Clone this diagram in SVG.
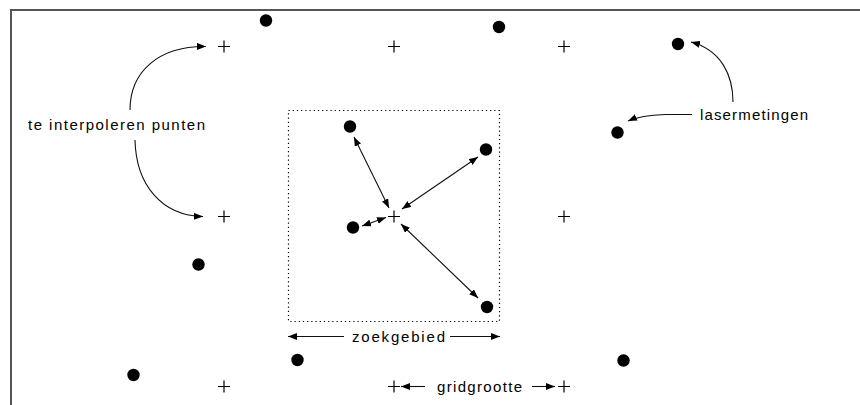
<svg xmlns="http://www.w3.org/2000/svg" width="860" height="405" viewBox="0 0 860 405">
<defs>
<style>
.frame{stroke:#555;stroke-width:2;fill:none}
.cross{stroke:#000;stroke-width:1.2;fill:none}
.dot{fill:#000}
.lbl{font-family:"Liberation Sans",Arial,sans-serif;font-size:15px;fill:#000}
.conn{stroke:#111;stroke-width:1.1;fill:none}
.box{stroke:#000;stroke-width:1.2;fill:none;stroke-dasharray:1.2 3}
</style>
<marker id="ah" viewBox="0 0 10 10" refX="10" refY="5" markerWidth="9" markerHeight="7" markerUnits="userSpaceOnUse" orient="auto-start-reverse" preserveAspectRatio="none">
<path d="M0,0 L10,5 L0,10 Z" fill="#000"/>
</marker>
</defs>
<rect width="860" height="405" fill="#fff"/>
<path class="frame" d="M11,405 V10 H860"/>
<g id="zoekgebied-box"><rect class="box" x="288.5" y="110.5" width="211" height="211"/></g>
<g id="crosses">
<g id="p1"><path class="cross" d="M218,46.5h12M224,40.5v12"/></g>
<g id="p2"><path class="cross" d="M388,46.5h12M394,40.5v12"/></g>
<g id="p3"><path class="cross" d="M558,46.5h12M564,40.5v12"/></g>
<g id="p4"><path class="cross" d="M218,216.5h12M224,210.5v12"/></g>
<g id="p5"><path class="cross" d="M388,216.5h12M394,210.5v12"/></g>
<g id="p6"><path class="cross" d="M558,216.5h12M564,210.5v12"/></g>
<g id="p7"><path class="cross" d="M218,386.5h12M224,380.5v12"/></g>
<g id="p8"><path class="cross" d="M388,386.5h12M394,380.5v12"/></g>
<g id="p9"><path class="cross" d="M558,386.5h12M564,380.5v12"/></g>
</g>
<g id="dots">
<g id="m1"><circle class="dot" cx="266" cy="20.5" r="6.2"/></g>
<g id="m2"><circle class="dot" cx="499" cy="27" r="6.2"/></g>
<g id="m3"><circle class="dot" cx="678" cy="44" r="6.2"/></g>
<g id="m4"><circle class="dot" cx="617.5" cy="132.5" r="6.2"/></g>
<g id="m5"><circle class="dot" cx="350" cy="126.5" r="6.2"/></g>
<g id="m6"><circle class="dot" cx="486" cy="149.5" r="6.2"/></g>
<g id="m7"><circle class="dot" cx="353" cy="227.5" r="6.2"/></g>
<g id="m8"><circle class="dot" cx="487" cy="307" r="6.2"/></g>
<g id="m9"><circle class="dot" cx="198.5" cy="264.5" r="6.2"/></g>
<g id="m10"><circle class="dot" cx="133.5" cy="375" r="6.2"/></g>
<g id="m11"><circle class="dot" cx="297.5" cy="360" r="6.2"/></g>
<g id="m12"><circle class="dot" cx="623.5" cy="360.5" r="6.2"/></g>
</g>
<g id="labels">
<g id="lbl-punten"><text class="lbl" x="28" y="130" textLength="177" lengthAdjust="spacing">te interpoleren punten</text></g>
<g id="lbl-laser"><text class="lbl" x="700" y="120" textLength="108" lengthAdjust="spacing">lasermetingen</text></g>
<g id="lbl-zoek"><text class="lbl" x="352" y="342" textLength="93" lengthAdjust="spacing">zoekgebied</text></g>
<g id="lbl-grid"><text class="lbl" x="437" y="392" textLength="85" lengthAdjust="spacing">gridgrootte</text></g>
</g>
<g id="connectors">
<path class="conn" marker-end="url(#ah)" d="M130,110 C130,72 158,46 206,46.5"/>
<path class="conn" marker-end="url(#ah)" d="M135,140 C136,185 162,216 203,216.5"/>
<path class="conn" marker-end="url(#ah)" d="M733,102 C733,75 721,50 691,42"/>
<path class="conn" marker-end="url(#ah)" d="M692,114.5 L665,114.5 C650,115 637,117 628,121"/>
<path class="conn" marker-start="url(#ah)" marker-end="url(#ah)" d="M354,137 L389,208"/>
<path class="conn" marker-start="url(#ah)" marker-end="url(#ah)" d="M478,157 L402,209"/>
<path class="conn" marker-start="url(#ah)" marker-end="url(#ah)" d="M362,226 L386,217.5"/>
<path class="conn" marker-start="url(#ah)" marker-end="url(#ah)" d="M401,224 L478,298"/>
<path class="conn" marker-end="url(#ah)" d="M344,336.5 L288,336.5"/>
<path class="conn" marker-end="url(#ah)" d="M450,336.5 L500,336.5"/>
<path class="conn" marker-end="url(#ah)" d="M425,386.5 L401,386.5"/>
<path class="conn" marker-end="url(#ah)" d="M532,386.5 L555,386.5"/>
</g>
</svg>
